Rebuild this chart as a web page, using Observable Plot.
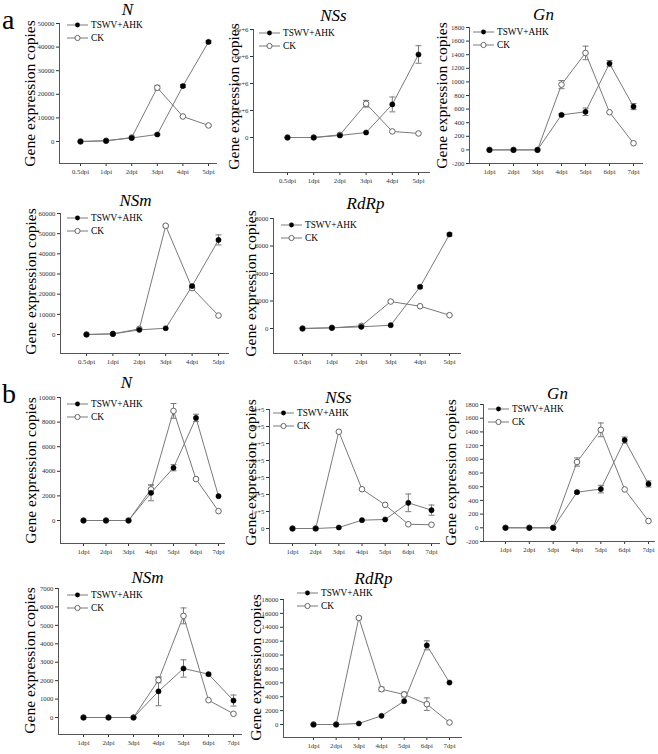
<!DOCTYPE html>
<html><head><meta charset="utf-8">
<script src="https://cdn.jsdelivr.net/npm/d3@7"></script>
<script src="https://cdn.jsdelivr.net/npm/@observablehq/plot@0.6"></script>
<style>
body{margin:0;background:#fff;}
#chart{position:relative;width:658px;height:754px;overflow:hidden;background:#fff;}
.panel{position:absolute;}
.panel text{font-family:"Liberation Serif","DejaVu Serif",serif;}
.tag{position:absolute;font-family:"Liberation Serif","DejaVu Serif",serif;font-size:28px;line-height:1;color:#000;}
</style></head><body><div id="chart"></div>
<script>
// ---------- categories / labels ----------
const daysA = ["0.5dpi","1dpi","2dpi","3dpi","4dpi","5dpi"];
const daysB = ["1dpi","2dpi","3dpi","4dpi","5dpi","6dpi","7dpi"];
const seriesNames = ["TSWV+AHK","CK"];
const yLabel = "Gene expression copies";

// ---------- panel a ----------
const aN_tswv    = [0, 300, 1500, 2970, 23500, 42200];
const aN_tswvErr = [0, 0, 0, 300, 600, 500];
const aN_ck      = [0, 300, 1700, 22800, 10600, 6800];
const aN_ckErr   = [0, 0, 0, 1000, 300, 300];
const aN_ticks   = [0, 10000, 20000, 30000, 40000, 50000];
const aN_tickLabels = ["0","10000","20000","30000","40000","50000"];

const aNSs_tswv    = [0, 0, 0.15e6, 0.37e6, 2.45e6, 6.15e6];
const aNSs_tswvErr = [0, 0, 0, 0, 0.55e6, 0.65e6];
const aNSs_ck      = [0, 0, 0.2e6, 2.5e6, 0.45e6, 0.3e6];
const aNSs_ckErr   = [0, 0, 0, 0.25e6, 0, 0];
const aNSs_ticks   = [0, 2e6, 4e6, 6e6, 8e6];
const aNSs_tickLabels = ["0","2e+6","4e+6","6e+6","8e+6"];

const aGn_tswv    = [0, 0, 0, 515, 560, 1270, 637];
const aGn_tswvErr = [0, 0, 0, 15, 55, 45, 45];
const aGn_ck      = [0, 0, 0, 960, 1426, 554, 98];
const aGn_ckErr   = [0, 0, 0, 60, 100, 0, 0];
const aGn_ticks   = [-200, 0, 200, 400, 600, 800, 1000, 1200, 1400, 1600, 1800];
const aGn_tickLabels = ["-200","0","200","400","600","800","1000","1200","1400","1600","1800"];

const aNSm_tswv    = [0, 300, 2300, 3100, 24000, 46900];
const aNSm_tswvErr = [0, 0, 0, 0, 500, 2500];
const aNSm_ck      = [0, 300, 2800, 53900, 23000, 9400];
const aNSm_ckErr   = [0, 0, 0, 600, 0, 0];
const aNSm_ticks   = [0, 10000, 20000, 30000, 40000, 50000, 60000];
const aNSm_tickLabels = ["0","10000","20000","30000","40000","50000","60000"];

const aRdRp_tswv    = [0, 50, 120, 240, 3030, 6840];
const aRdRp_tswvErr = [0, 0, 0, 0, 100, 100];
const aRdRp_ck      = [0, 50, 190, 1960, 1620, 970];
const aRdRp_ckErr   = [0, 0, 0, 60, 0, 0];
const aRdRp_ticks   = [0, 2000, 4000, 6000, 8000];
const aRdRp_tickLabels = ["0","2000","4000","6000","8000"];

// ---------- panel b ----------
const bN_tswv    = [0, 0, 0, 2250, 4290, 8340, 1980];
const bN_tswvErr = [0, 0, 0, 650, 250, 300, 0];
const bN_ck      = [0, 0, 0, 2530, 8910, 3370, 760];
const bN_ckErr   = [0, 0, 0, 350, 600, 100, 0];
const bN_ticks   = [0, 2000, 4000, 6000, 8000, 10000];
const bN_tickLabels = ["0","2000","4000","6000","8000","10000"];

const bNSs_tswv    = [0, 0, 6000, 49000, 53000, 151000, 108000];
const bNSs_tswvErr = [0, 0, 0, 0, 0, 52000, 30000];
const bNSs_ck      = [0, 0, 569000, 231000, 139000, 25000, 22000];
const bNSs_ckErr   = [0, 0, 0, 0, 0, 0, 0];
const bNSs_ticks   = [0, 1e5, 2e5, 3e5, 4e5, 5e5, 6e5, 7e5];
const bNSs_tickLabels = ["0","1e+5","2e+5","3e+5","4e+5","5e+5","6e+5","7e+5"];

const bGn_tswv    = [0, 0, 0, 520, 565, 1280, 640];
const bGn_tswvErr = [0, 0, 0, 15, 55, 45, 45];
const bGn_ck      = [0, 0, 0, 960, 1430, 560, 100];
const bGn_ckErr   = [0, 0, 0, 60, 100, 0, 0];
const bGn_ticks   = aGn_ticks;
const bGn_tickLabels = aGn_tickLabels;

const bNSm_tswv    = [0, 0, 0, 1420, 2660, 2350, 920];
const bNSm_tswvErr = [0, 0, 0, 780, 470, 60, 300];
const bNSm_ck      = [0, 0, 0, 2030, 5515, 940, 200];
const bNSm_ckErr   = [0, 0, 0, 150, 430, 0, 0];
const bNSm_ticks   = [0, 1000, 2000, 3000, 4000, 5000, 6000, 7000];
const bNSm_tickLabels = ["0","1000","2000","3000","4000","5000","6000","7000"];

const bRdRp_tswv    = [0, 0, 145, 1250, 3360, 11400, 6040];
const bRdRp_tswvErr = [0, 0, 0, 0, 0, 650, 0];
const bRdRp_ck      = [0, 0, 15350, 5080, 4320, 2930, 290];
const bRdRp_ckErr   = [0, 0, 200, 300, 350, 900, 0];
const bRdRp_ticks   = [0, 2000, 4000, 6000, 8000, 10000, 12000, 14000, 16000, 18000];
const bRdRp_tickLabels = ["0","2000","4000","6000","8000","10000","12000","14000","16000","18000"];

// ---------- layout (pixels) ----------
const panels = [
  {title:"N",   days:daysA, tswv:aN_tswv, tswvErr:aN_tswvErr, ck:aN_ck, ckErr:aN_ckErr, ticks:aN_ticks, tickLabels:aN_tickLabels,
   L:59, R:217, T:23, B:163, Z:141, p0:80, p1:208, tx:127, ty:9, lx:30, ly:93, gx:8, gy:2},
  {title:"NSs", days:daysA, tswv:aNSs_tswv, tswvErr:aNSs_tswvErr, ck:aNSs_ck, ckErr:aNSs_ckErr, ticks:aNSs_ticks, tickLabels:aNSs_tickLabels,
   L:253, R:430, T:29, B:172, Z:137, p0:287, p1:418, tx:333, ty:15, lx:234, ly:96, gx:6, gy:4},
  {title:"Gn",  days:daysB, tswv:aGn_tswv, tswvErr:aGn_tswvErr, ck:aGn_ck, ckErr:aGn_ckErr, ticks:aGn_ticks, tickLabels:aGn_tickLabels,
   L:469, R:643, T:27, B:163, p0:489, p1:633, tx:543, ty:14, lx:442, ly:95, gx:4, gy:5},
  {title:"NSm", days:daysA, tswv:aNSm_tswv, tswvErr:aNSm_tswvErr, ck:aNSm_ck, ckErr:aNSm_ckErr, ticks:aNSm_ticks, tickLabels:aNSm_tickLabels,
   L:60, R:229, T:213, B:353, Z:334, p0:86, p1:218, tx:135, ty:200, lx:31, ly:281, gx:7, gy:5},
  {title:"RdRp",days:daysA, tswv:aRdRp_tswv, tswvErr:aRdRp_tswvErr, ck:aRdRp_ck, ckErr:aRdRp_ckErr, ticks:aRdRp_ticks, tickLabels:aRdRp_tickLabels,
   L:273, R:461, T:218, B:353, Z:328, p0:302, p1:449, tx:365, ty:203, lx:251, ly:283, gx:8, gy:7},
  {title:"N",   days:daysB, tswv:bN_tswv, tswvErr:bN_tswvErr, ck:bN_ck, ckErr:bN_ckErr, ticks:bN_ticks, tickLabels:bN_tickLabels,
   L:60, R:225, T:397, B:543, Z:520, p0:83, p1:218, tx:126, ty:382, lx:31, ly:470, gx:7, gy:7},
  {title:"NSs", days:daysB, tswv:bNSs_tswv, tswvErr:bNSs_tswvErr, ck:bNSs_ck, ckErr:bNSs_ckErr, ticks:bNSs_ticks, tickLabels:bNSs_tickLabels,
   L:269, R:440, T:409, B:543, Z:528, p0:292, p1:431, tx:338, ty:397, lx:251, ly:472, gx:4, gy:4},
  {title:"Gn",  days:daysB, tswv:bGn_tswv, tswvErr:bGn_tswvErr, ck:bGn_ck, ckErr:bGn_ckErr, ticks:bGn_ticks, tickLabels:bGn_tickLabels,
   L:483, R:655, T:404, B:541, p0:505, p1:648, tx:557, ty:393, lx:451, ly:472, gx:5, gy:5},
  {title:"NSm", days:daysB, tswv:bNSm_tswv, tswvErr:bNSm_tswvErr, ck:bNSm_ck, ckErr:bNSm_ckErr, ticks:bNSm_ticks, tickLabels:bNSm_tickLabels,
   L:58, R:242, T:588, B:734, Z:717, p0:83, p1:233, tx:147, ty:577, lx:30, ly:660, gx:9, gy:7},
  {title:"RdRp",days:daysB, tswv:bRdRp_tswv, tswvErr:bRdRp_tswvErr, ck:bRdRp_ck, ckErr:bRdRp_ckErr, ticks:bRdRp_ticks, tickLabels:bRdRp_tickLabels,
   L:283, R:462, T:599, B:737, Z:724, p0:313, p1:449, tx:373, ty:578, lx:256, ly:667, gx:14, gy:-6}
];

const LINE = "#7a7a7a";
const AXIS = "#555";
const FONT = '"Liberation Serif", "DejaVu Serif", serif';
const chart = document.getElementById("chart");
const M = 4;

function drawPanel(p) {
  const n = p.days.length;
  const step = (p.p1 - p.p0) / (n - 1);
  const xDom = [-(p.p0 - p.L) / step, (n - 1) + (p.R - p.p1) / step];
  const yMax = p.ticks[p.ticks.length - 1];
  const yMin = p.Z !== undefined ? -(p.B - p.Z) * yMax / (p.Z - p.T) : p.ticks[0];
  const rows = [];
  p.tswv.forEach((v, i) => rows.push({series: seriesNames[0], i, v, e: p.tswvErr[i]}));
  p.ck.forEach((v, i) => rows.push({series: seriesNames[1], i, v, e: p.ckErr[i]}));
  const errs = rows.filter(d => d.e > 0);
  const cap = 3 / step;
  const labelMap = new Map(p.ticks.map((t, k) => [t, p.tickLabels[k]]));
  const svg = Plot.plot({
    width: p.R - p.L + 2 * M,
    height: p.B - p.T + 2 * M,
    marginLeft: M, marginRight: M, marginTop: M, marginBottom: M,
    style: {background: "transparent", overflow: "visible", fontFamily: FONT, fontSize: "6.8px", color: "#333"},
    x: {type: "linear", domain: xDom, ticks: d3.range(n), tickFormat: i => p.days[i], tickSize: 3, tickPadding: 3, label: null},
    y: {domain: [yMin, yMax], ticks: p.ticks, tickFormat: d => labelMap.get(d), tickSize: 3, tickPadding: 2, label: null},
    marks: [
      Plot.text([yLabel], {text: d => d, frameAnchor: "top-left", dx: p.lx - p.L, dy: p.ly - p.T, rotate: -90,
        textAnchor: "middle", lineAnchor: "middle", fontSize: 15.5, fill: "#000"}),
      Plot.ruleX([xDom[0]], {stroke: AXIS, strokeWidth: 1}),
      Plot.ruleY([yMin], {stroke: AXIS, strokeWidth: 1}),
      Plot.line(rows, {x: "i", y: "v", z: "series", stroke: LINE, strokeWidth: 1}),
      Plot.ruleX(errs, {x: "i", y1: d => d.v - d.e, y2: d => d.v + d.e, stroke: LINE, strokeWidth: 1}),
      Plot.link(errs, {x1: d => d.i - cap, x2: d => d.i + cap, y1: d => d.v + d.e, y2: d => d.v + d.e, stroke: LINE, strokeWidth: 1}),
      Plot.link(errs, {x1: d => d.i - cap, x2: d => d.i + cap, y1: d => d.v - d.e, y2: d => d.v - d.e, stroke: LINE, strokeWidth: 1}),
      Plot.dot(rows.filter(d => d.series === seriesNames[1]), {x: "i", y: "v", r: 2.8, fill: "white", stroke: "#666", strokeWidth: 1}),
      Plot.dot(rows.filter(d => d.series === seriesNames[0]), {x: "i", y: "v", r: 2.6, fill: "#000", stroke: "#000", strokeWidth: 0.5}),
      Plot.text([p.title], {text: d => d, frameAnchor: "top-left", dx: p.tx - p.L, dy: p.ty - p.T,
        textAnchor: "middle", lineAnchor: "middle", fontSize: 17, fontStyle: "italic", fill: "#000"})
    ]
  });
  svg.classList.add("panel");
  svg.setAttribute("font-family", FONT);
  svg.style.left = (p.L - M) + "px";
  svg.style.top = (p.T - M) + "px";
  // legend
  const g = d3.select(svg).append("g")
    .attr("transform", `translate(${M + p.gx},${M + p.gy})`)
    .attr("font-family", FONT).attr("font-size", 9.3).attr("text-anchor", "start");
  seriesNames.forEach((name, k) => {
    const yy = k * 13;
    g.append("line").attr("x1", 0).attr("x2", 21).attr("y1", yy).attr("y2", yy).attr("stroke", LINE);
    if (k === 0) g.append("circle").attr("cx", 10.5).attr("cy", yy).attr("r", 2.4).attr("fill", "#000");
    else g.append("circle").attr("cx", 10.5).attr("cy", yy).attr("r", 2.6).attr("fill", "#fff").attr("stroke", "#666");
    g.append("text").attr("x", 24).attr("y", yy).attr("dy", "0.35em").attr("fill", "#000")
      .attr("text-anchor", "start").text(name);
  });
  chart.appendChild(svg);
}
panels.forEach(drawPanel);

[["a", 2, 6], ["b", 2, 380]].forEach(([t, x, y]) => {
  const d = document.createElement("div");
  d.className = "tag"; d.textContent = t;
  d.style.left = x + "px"; d.style.top = y + "px";
  chart.appendChild(d);
});
</script></body></html>
